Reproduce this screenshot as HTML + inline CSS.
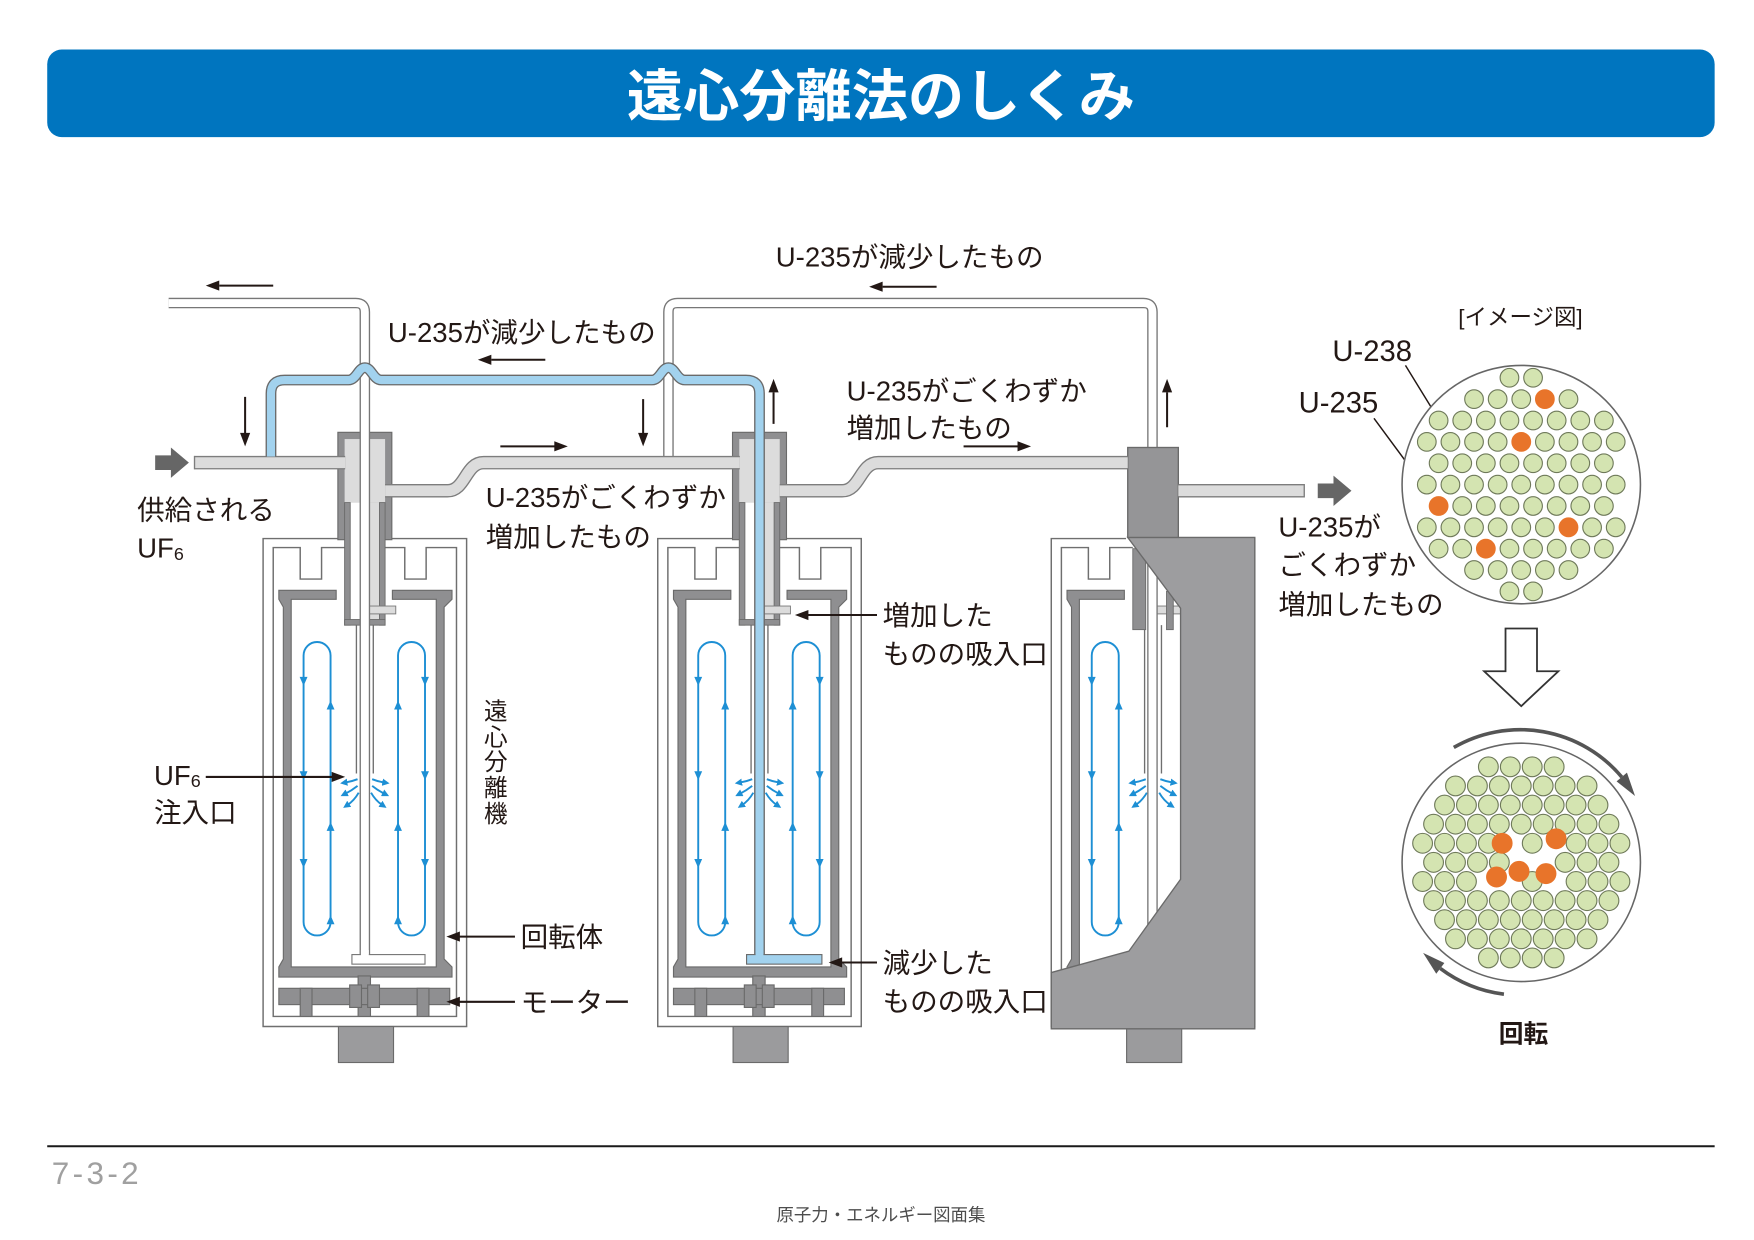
<!DOCTYPE html>
<html lang="ja"><head><meta charset="utf-8"><title>遠心分離法のしくみ</title>
<style>
html,body{margin:0;padding:0;background:#fff;width:1754px;height:1240px;overflow:hidden}
svg{display:block}
text{font-family:"Liberation Sans","Noto Sans CJK JP",sans-serif;fill:#231815}
</style></head><body>
<svg xmlns="http://www.w3.org/2000/svg" width="1754" height="1240" viewBox="0 0 1560 1102.85">
<defs>
<marker id="bh" viewBox="0 0 10 10" refX="3" refY="5" markerWidth="6.5" markerHeight="6.5" markerUnits="userSpaceOnUse" orient="auto"><path d="M0,0L10,5L0,10z" fill="#1d8fd4"/></marker>
</defs>
<rect width="1560" height="1102.85" fill="#fff"/>

<!-- Title -->
<rect x="42" y="44" width="1483" height="78" rx="13" fill="#0075bf"/>
<text x="783.5" y="103" font-size="50" font-weight="700" text-anchor="middle" style="fill:#fff">遠心分離法のしくみ</text>

<!-- ===== Units (casing, rotor, motor, flows) ===== -->
<g id="u1">
<path d="M300.5,479H234V913H415V479H348.5" fill="#fff" stroke="#6f6f6f" stroke-width="1.3"/>
<path d="M306.5,487H286V515H267V487H243V904H406V487H379V515H360V487H342.5" fill="none" stroke="#6f6f6f" stroke-width="1.3"/>
<path d="M248,525H299V533H259V860H388V533H349V525H402V533L395,540V853L402,860V869H248V860L252,853V540L248,533Z" fill="#8f8f91" stroke="#6a6a6a"/>
<g fill="#8f8f91" stroke="#6a6a6a">
<rect x="318.5" y="868" width="11" height="36"/>
<rect x="248" y="879" width="152" height="14.5"/>
<rect x="267" y="879" width="10.5" height="25"/>
<rect x="371" y="879" width="10.5" height="25"/>
<rect x="311" y="876" width="10.5" height="20"/>
<rect x="327" y="876" width="10.5" height="20"/>
<rect x="301" y="913" width="49" height="32" fill="#9b9b9d"/>
</g>
<path d="M317,556V688M332,556V688" stroke="#6f6f6f" stroke-width="1.2" fill="none"/>
<g fill="none" stroke="#1d8fd4" stroke-width="1.7">
<path d="M270,583A12,12 0 0 1 294,583V820A12,12 0 0 1 270,820Z"/>
<path d="M354,583A12,12 0 0 1 378,583V820A12,12 0 0 1 354,820Z"/>
<path d="M318,693Q313,695 307,696" marker-end="url(#bh)"/>
<path d="M318,699Q313,703 307,706" marker-end="url(#bh)"/>
<path d="M319,705Q315,712 309,716" marker-end="url(#bh)"/>
<path d="M331,693Q336,695 342,696" marker-end="url(#bh)"/>
<path d="M331,699Q336,703 342,706" marker-end="url(#bh)"/>
<path d="M330,705Q334,712 340,716" marker-end="url(#bh)"/>
</g>
<g fill="#1d8fd4">
<polygon points="266.5,602 273.5,602 270,610"/>
<polygon points="266.5,686 273.5,686 270,694"/>
<polygon points="266.5,764 273.5,764 270,772"/>
<polygon points="290.5,631 297.5,631 294,623"/>
<polygon points="290.5,739 297.5,739 294,731"/>
<polygon points="290.5,822 297.5,822 294,814"/>
<polygon points="350.5,631 357.5,631 354,623"/>
<polygon points="350.5,739 357.5,739 354,731"/>
<polygon points="350.5,822 357.5,822 354,814"/>
<polygon points="374.5,602 381.5,602 378,610"/>
<polygon points="374.5,686 381.5,686 378,694"/>
<polygon points="374.5,764 381.5,764 378,772"/>
</g>
</g>

<g transform="translate(351,0)">
<path d="M300.5,479H234V913H415V479H348.5" fill="#fff" stroke="#6f6f6f" stroke-width="1.3"/>
<path d="M306.5,487H286V515H267V487H243V904H406V487H379V515H360V487H342.5" fill="none" stroke="#6f6f6f" stroke-width="1.3"/>
<path d="M248,525H299V533H259V860H388V533H349V525H402V533L395,540V853L402,860V869H248V860L252,853V540L248,533Z" fill="#8f8f91" stroke="#6a6a6a"/>
<g fill="#8f8f91" stroke="#6a6a6a">
<rect x="318.5" y="868" width="11" height="36"/>
<rect x="248" y="879" width="152" height="14.5"/>
<rect x="267" y="879" width="10.5" height="25"/>
<rect x="371" y="879" width="10.5" height="25"/>
<rect x="311" y="876" width="10.5" height="20"/>
<rect x="327" y="876" width="10.5" height="20"/>
<rect x="301" y="913" width="49" height="32" fill="#9b9b9d"/>
</g>
<path d="M317,556V688M332,556V688" stroke="#6f6f6f" stroke-width="1.2" fill="none"/>
<g fill="none" stroke="#1d8fd4" stroke-width="1.7">
<path d="M270,583A12,12 0 0 1 294,583V820A12,12 0 0 1 270,820Z"/>
<path d="M354,583A12,12 0 0 1 378,583V820A12,12 0 0 1 354,820Z"/>
<path d="M318,693Q313,695 307,696" marker-end="url(#bh)"/>
<path d="M318,699Q313,703 307,706" marker-end="url(#bh)"/>
<path d="M319,705Q315,712 309,716" marker-end="url(#bh)"/>
<path d="M331,693Q336,695 342,696" marker-end="url(#bh)"/>
<path d="M331,699Q336,703 342,706" marker-end="url(#bh)"/>
<path d="M330,705Q334,712 340,716" marker-end="url(#bh)"/>
</g>
<g fill="#1d8fd4">
<polygon points="266.5,602 273.5,602 270,610"/>
<polygon points="266.5,686 273.5,686 270,694"/>
<polygon points="266.5,764 273.5,764 270,772"/>
<polygon points="290.5,631 297.5,631 294,623"/>
<polygon points="290.5,739 297.5,739 294,731"/>
<polygon points="290.5,822 297.5,822 294,814"/>
<polygon points="350.5,631 357.5,631 354,623"/>
<polygon points="350.5,739 357.5,739 354,731"/>
<polygon points="350.5,822 357.5,822 354,814"/>
<polygon points="374.5,602 381.5,602 378,610"/>
<polygon points="374.5,686 381.5,686 378,694"/>
<polygon points="374.5,764 381.5,764 378,772"/>
</g>
</g>

<g transform="translate(701,0)">
<path d="M300.5,479H234V913H415V479H348.5" fill="#fff" stroke="#6f6f6f" stroke-width="1.3"/>
<path d="M306.5,487H286V515H267V487H243V904H406V487H379V515H360V487H342.5" fill="none" stroke="#6f6f6f" stroke-width="1.3"/>
<path d="M248,525H299V533H259V860H388V533H349V525H402V533L395,540V853L402,860V869H248V860L252,853V540L248,533Z" fill="#8f8f91" stroke="#6a6a6a"/>
<g fill="#8f8f91" stroke="#6a6a6a">
<rect x="301" y="913" width="49" height="32" fill="#9b9b9d"/>
</g>
<path d="M317,556V688M332,556V688" stroke="#6f6f6f" stroke-width="1.2" fill="none"/>
<g fill="none" stroke="#1d8fd4" stroke-width="1.7">
<path d="M270,583A12,12 0 0 1 294,583V820A12,12 0 0 1 270,820Z"/>
<path d="M318,693Q313,695 307,696" marker-end="url(#bh)"/>
<path d="M318,699Q313,703 307,706" marker-end="url(#bh)"/>
<path d="M319,705Q315,712 309,716" marker-end="url(#bh)"/>
<path d="M331,693Q336,695 342,696" marker-end="url(#bh)"/>
<path d="M331,699Q336,703 342,706" marker-end="url(#bh)"/>
<path d="M330,705Q334,712 340,716" marker-end="url(#bh)"/>
</g>
<g fill="#1d8fd4">
<polygon points="266.5,602 273.5,602 270,610"/>
<polygon points="266.5,686 273.5,686 270,694"/>
<polygon points="266.5,764 273.5,764 270,772"/>
<polygon points="290.5,631 297.5,631 294,623"/>
<polygon points="290.5,739 297.5,739 294,731"/>
<polygon points="290.5,822 297.5,822 294,814"/>
</g>
</g>

<!-- C3 inner parts -->
<rect x="1007.5" y="488" width="11.5" height="72" fill="#8f8f91" stroke="#6a6a6a" stroke-width="0.8"/>
<rect x="1029" y="539" width="21" height="7" fill="#dcdcdc" stroke="#777" stroke-width="0.8"/>
<rect x="1037.5" y="526" width="6" height="34" fill="#8f8f91" stroke="#6a6a6a" stroke-width="0.8"/>

<!-- top-right white loop (C3 -> C2) -->
<path d="M594.5,406V277.5Q594.5,269.5 602.5,269.5H1017Q1025,269.5 1025,277.5V845" fill="none" stroke="#777" stroke-width="9.4"/>
<path d="M594.5,406V277.5Q594.5,269.5 602.5,269.5H1017Q1025,269.5 1025,277.5V845" fill="none" stroke="#fff" stroke-width="7"/>

<!-- C3 body and cap -->
<polygon points="1003,478 1116,478 1116,915 935,915 935,865 1004,846 1050,782 1050,541" fill="#9d9d9f" stroke="#6a6a6a" stroke-width="1.2"/>
<rect x="1003" y="398" width="45" height="80" fill="#959597" stroke="#6a6a6a" stroke-width="1.2"/>

<!-- C1 cap -->
<g>
<rect x="300.5" y="384.5" width="48" height="95.5" fill="#8f8f91" stroke="#6a6a6a"/>
<rect x="306.5" y="390.5" width="36" height="56.5" fill="#dcdcdc"/>
<rect x="311.5" y="447" width="9" height="104" fill="#fff"/>
<rect x="328.5" y="447" width="9" height="104" fill="#dcdcdc"/>
<g fill="#8f8f91" stroke="#6a6a6a" stroke-width="0.8">
<rect x="306.5" y="447" width="5" height="109"/>
<rect x="337.5" y="447" width="5" height="109"/>
<rect x="306.5" y="551" width="36" height="5"/>
</g>
<rect x="328.5" y="539" width="23.5" height="7" fill="#dcdcdc" stroke="#777" stroke-width="0.8"/>
</g>
<!-- C2 cap -->
<g transform="translate(351,0)">
<rect x="300.5" y="384.5" width="48" height="95.5" fill="#8f8f91" stroke="#6a6a6a"/>
<rect x="306.5" y="390.5" width="36" height="56.5" fill="#dcdcdc"/>
<rect x="311.5" y="447" width="9" height="104" fill="#fff"/>
<rect x="328.5" y="447" width="9" height="104" fill="#dcdcdc"/>
<g fill="#8f8f91" stroke="#6a6a6a" stroke-width="0.8">
<rect x="306.5" y="447" width="5" height="109"/>
<rect x="337.5" y="447" width="5" height="109"/>
<rect x="306.5" y="551" width="36" height="5"/>
</g>
<rect x="328.5" y="539" width="23.5" height="7" fill="#dcdcdc" stroke="#777" stroke-width="0.8"/>
</g>

<!-- light gray process pipes -->
<g fill="none">
<path d="M173,411.5H307M342.5,436.5H398C414,436.5 414,411.5 430,411.5H658M693.5,436.5H749C765,436.5 765,411.5 781,411.5H1003M1048,436.5H1160" stroke="#7d7d7d" stroke-width="12"/>
<path d="M173,411.5H307M342.5,436.5H398C414,436.5 414,411.5 430,411.5H658M693.5,436.5H749C765,436.5 765,411.5 781,411.5H1003M1048,436.5H1160" stroke="#dcdcdc" stroke-width="9.6"/>
</g>
<path d="M173,405.5V417.5M1160,430.5V442.5" stroke="#7d7d7d" stroke-width="1.2"/>

<!-- C1 white: top-left outlet + shaft -->
<path d="M150,269.5H316.5Q324.5,269.5 324.5,277.5V853" stroke="#777" stroke-width="9.4" fill="none"/>
<path d="M150,269.5H316.5Q324.5,269.5 324.5,277.5V853" stroke="#fff" stroke-width="7" fill="none"/>

<!-- blue pipe (C2 -> C1) -->
<path d="M241,406V350Q241,338 253,338H310C317,338 318.5,327 324.5,327C330.5,327 332,338 339,338H580C587,338 588.5,327 594.5,327C600.5,327 602,338 609,338H663.5Q675.5,338 675.5,350V853" stroke="#6a6a6a" stroke-width="9.6" fill="none"/>
<path d="M241,406V350Q241,338 253,338H310C317,338 318.5,327 324.5,327C330.5,327 332,338 339,338H580C587,338 588.5,327 594.5,327C600.5,327 602,338 609,338H663.5Q675.5,338 675.5,350V853" stroke="#a2d2ee" stroke-width="7.2" fill="none"/>

<!-- bottom scoops -->
<rect x="313" y="849" width="65" height="8.5" fill="#fff" stroke="#777"/>
<rect x="321" y="845" width="7" height="8" fill="#fff"/>
<rect x="664" y="849" width="67" height="8.5" fill="#a2d2ee" stroke="#6a6a6a"/>
<rect x="672" y="845" width="7" height="8" fill="#a2d2ee"/>

<!-- block arrows -->
<polygon points="138,405 152,405 152,398 168,411.5 152,425 152,418 138,418" fill="#666"/>
<polygon points="1172,430 1186,430 1186,423 1202,436.5 1186,450 1186,443 1172,443" fill="#666"/>

<!-- black arrows -->
<g stroke="#231815" stroke-width="1.8" fill="none">
<path d="M195,254H243M785,255H833M437,320H485M218,353V386M572,355V386M688,349V377M1038,349V380M445,397H494M857,397H906M183,691H296M458,833H408M458,891H408M780,547H718M780,856H748"/>
</g>
<g fill="#231815">
<polygon points="183,254 195,249.5 195,258.5"/>
<polygon points="773,255 785,250.5 785,259.5"/>
<polygon points="425,320 437,315.5 437,324.5"/>
<polygon points="218,397 213.5,385 222.5,385"/>
<polygon points="572,397 567.5,385 576.5,385"/>
<polygon points="688,337 683.5,349 692.5,349"/>
<polygon points="1038,337 1033.5,349 1042.5,349"/>
<polygon points="505,397 493,392.5 493,401.5"/>
<polygon points="917,397 905,392.5 905,401.5"/>
<polygon points="307,691 295,686.5 295,695.5"/>
<polygon points="397,833 409,828.5 409,837.5"/>
<polygon points="397,891 409,886.5 409,895.5"/>
<polygon points="707,547 719,542.5 719,551.5"/>
<polygon points="737,856 749,851.5 749,860.5"/>
</g>

<!-- labels -->
<g font-size="24.5">
<text x="690" y="237">U-235が減少したもの</text>
<text x="345" y="304">U-235が減少したもの</text>
<text x="753" y="356">U-235がごくわずか</text>
<text x="753" y="389">増加したもの</text>
<text x="432" y="451">U-235がごくわずか</text>
<text x="432" y="486">増加したもの</text>
<text x="122" y="462">供給される</text>
<text x="122" y="496">UF<tspan font-size="16" dy="2">6</tspan></text>
<text x="1137" y="477">U-235が</text>
<text x="1137" y="511">ごくわずか</text>
<text x="1137" y="546">増加したもの</text>
<text x="785" y="556">増加した</text>
<text x="785" y="590">ものの吸入口</text>
<text x="785" y="865">減少した</text>
<text x="785" y="899">ものの吸入口</text>
<text x="463" y="842">回転体</text>
<text x="463" y="900">モーター</text>
<text x="137" y="698">UF<tspan font-size="16" dy="2">6</tspan></text>
<text x="137" y="731">注入口</text>
</g>
<g font-size="21" text-anchor="middle">
<text x="441" y="640">遠</text>
<text x="441" y="663">心</text>
<text x="441" y="685">分</text>
<text x="441" y="708">離</text>
<text x="441" y="731">機</text>
</g>
<text x="1297" y="289" font-size="20">[イメージ図]</text>
<text x="1185" y="321" font-size="26">U-238</text>
<text x="1155" y="367" font-size="26">U-235</text>
<text x="1355" y="927" font-size="22" font-weight="700" text-anchor="middle">回転</text>

<!-- pointer lines -->
<path d="M1250,325L1290,390M1222,372L1279.5,450" stroke="#231815" stroke-width="1.3" fill="none"/>

<!-- top image circle -->
<circle cx="1353" cy="431" r="106" fill="#fff" stroke="#666" stroke-width="1.4"/>
<g transform="translate(1353,431)" fill="#d4e4b1" stroke="#6f7a5a" stroke-width="1">
<circle cx="-10.5" cy="-95" r="8.3"/><circle cx="10.5" cy="-95" r="8.3"/>
<circle cx="-42" cy="-76" r="8.3"/><circle cx="-21" cy="-76" r="8.3"/><circle cx="0" cy="-76" r="8.3"/><circle cx="42" cy="-76" r="8.3"/>
<circle cx="-73.5" cy="-57" r="8.3"/><circle cx="-52.5" cy="-57" r="8.3"/><circle cx="-31.5" cy="-57" r="8.3"/><circle cx="-10.5" cy="-57" r="8.3"/><circle cx="10.5" cy="-57" r="8.3"/><circle cx="31.5" cy="-57" r="8.3"/><circle cx="52.5" cy="-57" r="8.3"/><circle cx="73.5" cy="-57" r="8.3"/>
<circle cx="-84" cy="-38" r="8.3"/><circle cx="-63" cy="-38" r="8.3"/><circle cx="-42" cy="-38" r="8.3"/><circle cx="-21" cy="-38" r="8.3"/><circle cx="21" cy="-38" r="8.3"/><circle cx="42" cy="-38" r="8.3"/><circle cx="63" cy="-38" r="8.3"/><circle cx="84" cy="-38" r="8.3"/>
<circle cx="-73.5" cy="-19" r="8.3"/><circle cx="-52.5" cy="-19" r="8.3"/><circle cx="-31.5" cy="-19" r="8.3"/><circle cx="-10.5" cy="-19" r="8.3"/><circle cx="10.5" cy="-19" r="8.3"/><circle cx="31.5" cy="-19" r="8.3"/><circle cx="52.5" cy="-19" r="8.3"/><circle cx="73.5" cy="-19" r="8.3"/>
<circle cx="-84" cy="0" r="8.3"/><circle cx="-63" cy="0" r="8.3"/><circle cx="-42" cy="0" r="8.3"/><circle cx="-21" cy="0" r="8.3"/><circle cx="0" cy="0" r="8.3"/><circle cx="21" cy="0" r="8.3"/><circle cx="42" cy="0" r="8.3"/><circle cx="63" cy="0" r="8.3"/><circle cx="84" cy="0" r="8.3"/>
<circle cx="-52.5" cy="19" r="8.3"/><circle cx="-31.5" cy="19" r="8.3"/><circle cx="-10.5" cy="19" r="8.3"/><circle cx="10.5" cy="19" r="8.3"/><circle cx="31.5" cy="19" r="8.3"/><circle cx="52.5" cy="19" r="8.3"/><circle cx="73.5" cy="19" r="8.3"/>
<circle cx="-84" cy="38" r="8.3"/><circle cx="-63" cy="38" r="8.3"/><circle cx="-42" cy="38" r="8.3"/><circle cx="-21" cy="38" r="8.3"/><circle cx="0" cy="38" r="8.3"/><circle cx="21" cy="38" r="8.3"/><circle cx="63" cy="38" r="8.3"/><circle cx="84" cy="38" r="8.3"/>
<circle cx="-73.5" cy="57" r="8.3"/><circle cx="-52.5" cy="57" r="8.3"/><circle cx="-10.5" cy="57" r="8.3"/><circle cx="10.5" cy="57" r="8.3"/><circle cx="31.5" cy="57" r="8.3"/><circle cx="52.5" cy="57" r="8.3"/><circle cx="73.5" cy="57" r="8.3"/>
<circle cx="-42" cy="76" r="8.3"/><circle cx="-21" cy="76" r="8.3"/><circle cx="0" cy="76" r="8.3"/><circle cx="21" cy="76" r="8.3"/><circle cx="42" cy="76" r="8.3"/>
<circle cx="-10.5" cy="95" r="8.3"/><circle cx="10.5" cy="95" r="8.3"/>
<g fill="#e8742a" stroke="#e8742a">
<circle cx="21" cy="-76" r="8.3"/><circle cx="0" cy="-38" r="8.3"/><circle cx="-73.5" cy="19" r="8.3"/><circle cx="42" cy="38" r="8.3"/><circle cx="-31.5" cy="57" r="8.3"/>
</g>
</g>

<!-- hollow down arrow -->
<polygon points="1339,559 1367,559 1367,597 1386,597 1353,628 1320,597 1339,597" fill="#fff" stroke="#333" stroke-width="1.6"/>

<!-- bottom image circle -->
<circle cx="1353" cy="767" r="106" fill="#fff" stroke="#666" stroke-width="1.4"/>
<g transform="translate(1353,767)" fill="#d4e4b1" stroke="#6f7a5a" stroke-width="1">
<circle cx="-29.25" cy="-85" r="8.8"/><circle cx="-9.75" cy="-85" r="8.8"/><circle cx="9.75" cy="-85" r="8.8"/><circle cx="29.25" cy="-85" r="8.8"/>
<circle cx="-58.5" cy="-68" r="8.8"/><circle cx="-39" cy="-68" r="8.8"/><circle cx="-19.5" cy="-68" r="8.8"/><circle cx="0" cy="-68" r="8.8"/><circle cx="19.5" cy="-68" r="8.8"/><circle cx="39" cy="-68" r="8.8"/><circle cx="58.5" cy="-68" r="8.8"/>
<circle cx="-68.25" cy="-51" r="8.8"/><circle cx="-48.75" cy="-51" r="8.8"/><circle cx="-29.25" cy="-51" r="8.8"/><circle cx="-9.75" cy="-51" r="8.8"/><circle cx="9.75" cy="-51" r="8.8"/><circle cx="29.25" cy="-51" r="8.8"/><circle cx="48.75" cy="-51" r="8.8"/><circle cx="68.25" cy="-51" r="8.8"/>
<circle cx="-78" cy="-34" r="8.8"/><circle cx="-58.5" cy="-34" r="8.8"/><circle cx="-39" cy="-34" r="8.8"/><circle cx="-19.5" cy="-34" r="8.8"/><circle cx="0" cy="-34" r="8.8"/><circle cx="19.5" cy="-34" r="8.8"/><circle cx="39" cy="-34" r="8.8"/><circle cx="58.5" cy="-34" r="8.8"/><circle cx="78" cy="-34" r="8.8"/>
<circle cx="-87.75" cy="-17" r="8.8"/><circle cx="-68.25" cy="-17" r="8.8"/><circle cx="-48.75" cy="-17" r="8.8"/><circle cx="-29.25" cy="-17" r="8.8"/><circle cx="9.75" cy="-17" r="8.8"/><circle cx="48.75" cy="-17" r="8.8"/><circle cx="68.25" cy="-17" r="8.8"/><circle cx="87.75" cy="-17" r="8.8"/>
<circle cx="-78" cy="0" r="8.8"/><circle cx="-58.5" cy="0" r="8.8"/><circle cx="-39" cy="0" r="8.8"/><circle cx="-19.5" cy="0" r="8.8"/><circle cx="39" cy="0" r="8.8"/><circle cx="58.5" cy="0" r="8.8"/><circle cx="78" cy="0" r="8.8"/>
<circle cx="-87.75" cy="17" r="8.8"/><circle cx="-68.25" cy="17" r="8.8"/><circle cx="-48.75" cy="17" r="8.8"/><circle cx="9.75" cy="17" r="8.8"/><circle cx="48.75" cy="17" r="8.8"/><circle cx="68.25" cy="17" r="8.8"/><circle cx="87.75" cy="17" r="8.8"/>
<circle cx="-78" cy="34" r="8.8"/><circle cx="-58.5" cy="34" r="8.8"/><circle cx="-39" cy="34" r="8.8"/><circle cx="-19.5" cy="34" r="8.8"/><circle cx="0" cy="34" r="8.8"/><circle cx="19.5" cy="34" r="8.8"/><circle cx="39" cy="34" r="8.8"/><circle cx="58.5" cy="34" r="8.8"/><circle cx="78" cy="34" r="8.8"/>
<circle cx="-68.25" cy="51" r="8.8"/><circle cx="-48.75" cy="51" r="8.8"/><circle cx="-29.25" cy="51" r="8.8"/><circle cx="-9.75" cy="51" r="8.8"/><circle cx="9.75" cy="51" r="8.8"/><circle cx="29.25" cy="51" r="8.8"/><circle cx="48.75" cy="51" r="8.8"/><circle cx="68.25" cy="51" r="8.8"/>
<circle cx="-58.5" cy="68" r="8.8"/><circle cx="-39" cy="68" r="8.8"/><circle cx="-19.5" cy="68" r="8.8"/><circle cx="0" cy="68" r="8.8"/><circle cx="19.5" cy="68" r="8.8"/><circle cx="39" cy="68" r="8.8"/><circle cx="58.5" cy="68" r="8.8"/>
<circle cx="-29.25" cy="85" r="8.8"/><circle cx="-9.75" cy="85" r="8.8"/><circle cx="9.75" cy="85" r="8.8"/><circle cx="29.25" cy="85" r="8.8"/>
<g fill="#e8742a" stroke="#e8742a">
<circle cx="-17" cy="-17" r="8.8"/><circle cx="31" cy="-21" r="8.8"/><circle cx="-22" cy="13" r="8.8"/><circle cx="-2" cy="8" r="8.8"/><circle cx="22" cy="10" r="8.8"/>
</g>
</g>

<!-- rotation arrows -->
<path d="M1293,664.8A118,118 0 0 1 1442.4,691.1" fill="none" stroke="#555" stroke-width="3.2"/>
<polygon points="1454.2,708 1437.8,695 1447,687.2" fill="#555"/>
<path d="M1337.6,884.2A118,118 0 0 1 1281,861.3" fill="none" stroke="#555" stroke-width="3.2"/>
<polygon points="1265.7,847.5 1284.6,856.5 1277.4,866.1" fill="#555"/>

<!-- footer -->
<line x1="42" y1="1019.5" x2="1525" y2="1019.5" stroke="#1a1a1a" stroke-width="1.8"/>
<text x="46" y="1053" font-size="28" letter-spacing="3" style="fill:#a0a0a0">7-3-2</text>
<text x="783.5" y="1086" font-size="15.5" text-anchor="middle" style="fill:#4d4d4d">原子力・エネルギー図面集</text>
</svg>
</body></html>
